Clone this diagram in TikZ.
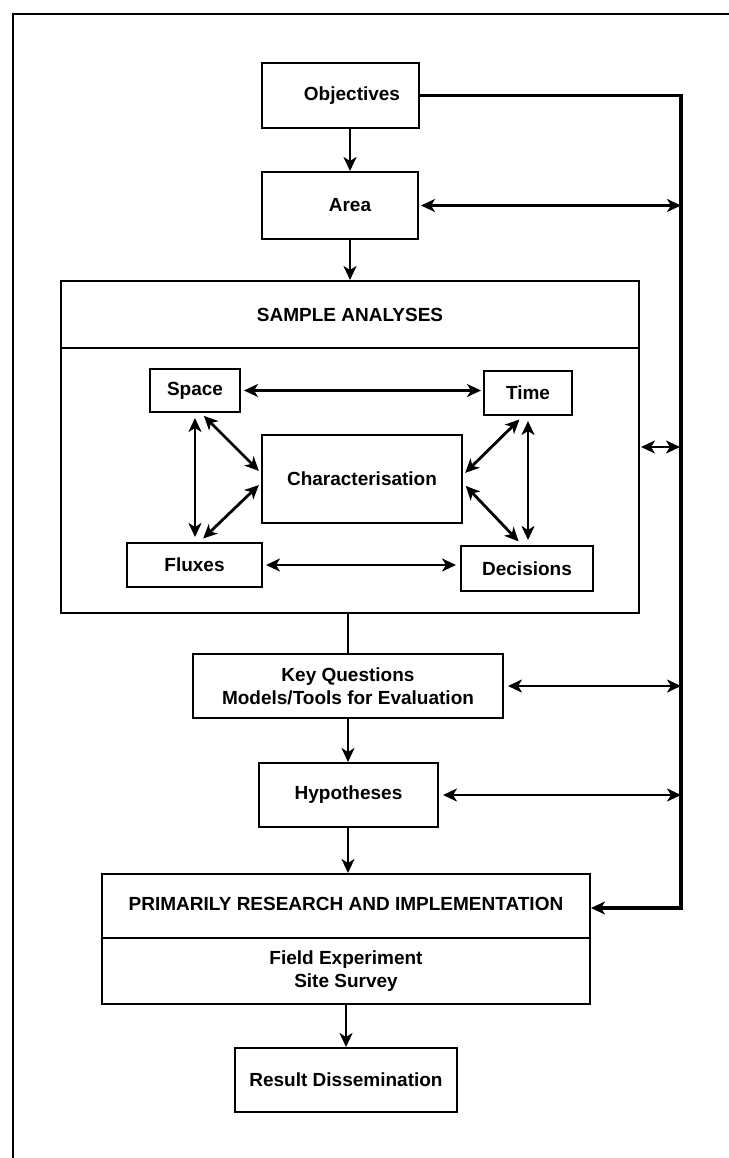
\documentclass[tikz,border=0pt]{standalone}
\usepackage{fontspec}
\setmainfont{Liberation Sans}
\usetikzlibrary{arrows.meta,calc}
\begin{document}
\begin{tikzpicture}[x=1pt,y=-1pt,
  txt/.style={font=\fontsize{19}{23}\selectfont\bfseries, align=center, inner sep=0pt},
  box/.style={draw, line width=2pt, inner sep=0pt, font=\fontsize{19}{23}\selectfont\bfseries, align=center},
  tip/.tip={Stealth[length=14pt,width=13pt,inset=4pt]},
  flow/.style={line width=2.8pt, -tip},
  both/.style={line width=2.8pt, tip-tip},
]
\useasboundingbox (0,0) rectangle (728,1158);

% outer frame
\draw[line width=2.4pt] (13,1170) -- (13,14) -- (740,14);

% main column of boxes
\node[box, minimum width=157pt, minimum height=65pt] (obj) at (340.5,95.5) {};
\node[txt] (objtext) at (352,95.5) {Objectives};
\node[box, minimum width=156pt, minimum height=67pt] (area) at (340,205.5) {};
\node[txt] (areatext) at (350,205.5) {Area};

% sample analyses block
\node[box, minimum width=578pt, minimum height=332pt] (sample) at (350,447) {};
\node[txt] (sampletitle) at (350,315) {SAMPLE ANALYSES};
\coordinate (sdiv) at (0,348);
\draw[line width=2pt] (sample.west |- sdiv) -- (sample.east |- sdiv);

\node[box, minimum width=90pt, minimum height=43pt] (space) at (195,390.5) {Space};
\node[box, minimum width=88pt, minimum height=44pt] (time) at (528,393) {Time};
\node[box, minimum width=200pt, minimum height=88pt] (char) at (362,479) {Characterisation};
\node[box, minimum width=135pt, minimum height=44pt] (flux) at (194.5,565) {Fluxes};
\node[box, minimum width=132pt, minimum height=45pt] (dec) at (527,568.5) {Decisions};

\node[box, minimum width=310pt, minimum height=64pt] (keyq) at (348,686) {Key Questions\\Models/Tools for Evaluation};
\node[box, minimum width=179pt, minimum height=64pt] (hyp) at (348.5,795) {Hypotheses};

% research and implementation block
\node[box, minimum width=488pt, minimum height=130pt] (prim) at (346,939) {};
\node[txt] (primtitle) at (346,904) {PRIMARILY RESEARCH AND IMPLEMENTATION};
\coordinate (pdiv) at (0,938);
\draw[line width=2pt] (prim.west |- pdiv) -- (prim.east |- pdiv);
\node[txt] (primbody) at (346,971) {Field Experiment\\Site Survey};

\node[box, minimum width=222pt, minimum height=64pt] (res) at (346,1080) {Result Dissemination};

% vertical flow
\coordinate (col) at (350,0);
\draw[flow] (obj.south -| col) -- (area.north -| col);
\draw[flow] (area.south -| col) -- (sample.north -| col);
\draw[line width=1.2pt] (sample.south -| keyq.north) -- (keyq.north);
\draw[flow] (keyq.south) -- (hyp.north -| keyq.south);
\draw[flow] (hyp.south -| keyq.south) -- (prim.north -| keyq.south);
\draw[flow] (prim.south -| res.north) -- (res.north);

% feedback rail on the right
\coordinate (rail) at (681,0);
\coordinate (railend) at (681,908);
\draw[flow, line width=3.2pt] (obj.east) -| (railend) -- (railend -| prim.east);
\draw[both, shorten <=2pt] (area.east) -- (area.east -| rail);
\draw[both, shorten <=1pt, shorten >=1pt] (sample.east) -- (sample.east -| rail);
\draw[both, shorten <=4pt] (keyq.east) -- (keyq.east -| rail);
\draw[both, shorten <=4pt] (hyp.east) -- (hyp.east -| rail);

% links inside the sample analyses block
\draw[both, shorten <=3pt, shorten >=2pt] (space.east) -- (space.east -| time.west);
\draw[both, shorten <=3pt, shorten >=4pt] (flux.east) -- (flux.east -| dec.west);
\draw[both, shorten <=5pt, shorten >=5pt] (space.south) -- (flux.north -| space.south);
\draw[both, shorten <=5pt, shorten >=5pt] (time.south) -- (dec.north -| time.south);
\draw[both, shorten <=4pt, shorten >=3pt] ($(space.south)+(6,0)$) -- ($(char.west)+(0,-6)$);
\draw[both, shorten <=5pt, shorten >=3pt] ($(flux.north)+(5,0)$) -- ($(char.west)+(0,4)$);
\draw[both, shorten <=5pt, shorten >=3pt] ($(time.south)+(-5,0)$) -- ($(char.east)+(0,-4)$);
\draw[both, shorten <=5pt, shorten >=4pt] ($(dec.north)+(-5,0)$) -- ($(char.east)+(0,4)$);
\end{tikzpicture}
\end{document}
